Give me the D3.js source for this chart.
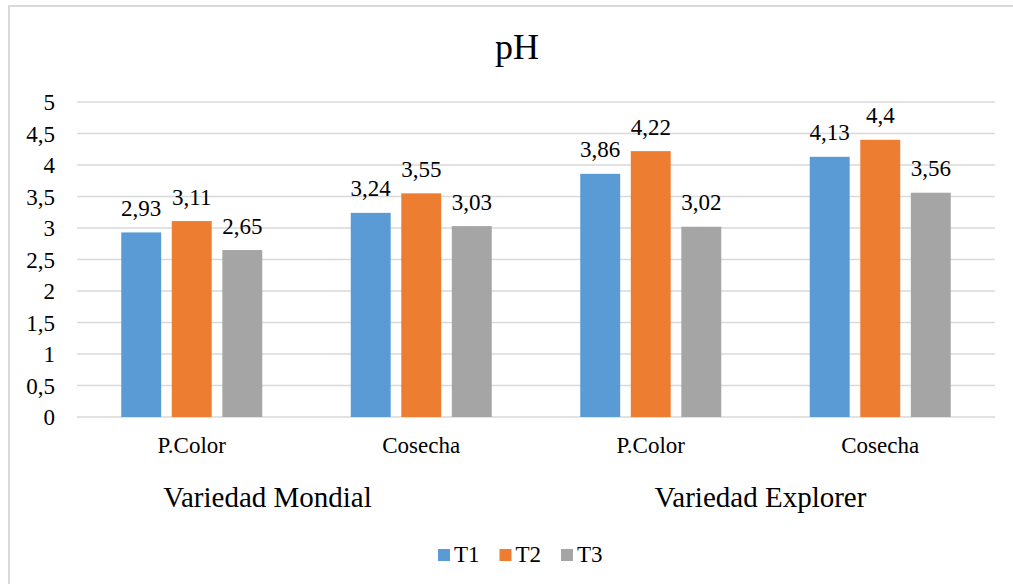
<!DOCTYPE html>
<html>
<head>
<meta charset="utf-8">
<script src="https://cdn.jsdelivr.net/npm/d3@7"></script>
<style>
  body { margin: 0; background: #fff; }
  svg text { font-family: "Liberation Serif", "Times New Roman", serif; }
</style>
</head>
<body>
<div id="chart"></div>
<script>
// data
const varieties = ["Variedad Mondial", "Variedad Explorer"];
const stages = ["P.Color", "Cosecha", "P.Color", "Cosecha"];
const treatments = ["T1", "T2", "T3"];
const t1Values = [2.93, 3.24, 3.86, 4.13];
const t2Values = [3.11, 3.55, 4.22, 4.4];
const t3Values = [2.65, 3.03, 3.02, 3.56];
const yTicks = [0, 0.5, 1, 1.5, 2, 2.5, 3, 3.5, 4, 4.5, 5];

const width = 1013;
const height = 584;
const plotLeft = 77;
const plotRight = 995;
const plotTop = 102;
const plotBottom = 417;
const clusterWidth = 141;
const serif = "Liberation Serif, Times New Roman, serif";

const colors = ["#5B9BD5", "#ED7D31", "#A5A5A5"];
const gridColor = "#d9d9d9";
const fmt = (v) => String(v).replace(".", ",");

const rows = stages.map((s, i) => ({
  key: i,
  stage: s,
  values: [t1Values[i], t2Values[i], t3Values[i]]
}));

const svg = d3.select("#chart")
  .append("svg")
  .attr("width", width)
  .attr("height", height)
  .attr("font-family", serif);

// outer chart border (clipped at right/bottom like the original)
svg.append("rect")
  .attr("x", 9)
  .attr("y", 6)
  .attr("width", 1100)
  .attr("height", 700)
  .attr("fill", "#fff")
  .attr("stroke", gridColor)
  .attr("stroke-width", 2);

svg.append("text")
  .attr("x", 517)
  .attr("y", 59)
  .attr("text-anchor", "middle")
  .attr("font-size", 36)
  .attr("fill", "#000")
  .text("pH");

const x0 = d3.scaleBand()
  .domain(rows.map((d) => d.key))
  .range([plotLeft, plotRight]);

const x1 = d3.scaleBand()
  .domain(treatments)
  .range([0, clusterWidth])
  .paddingInner(0.21);

const y = d3.scaleLinear()
  .domain([0, 5])
  .range([plotBottom, plotTop]);

// gridlines
svg.append("g")
  .selectAll("line")
  .data(yTicks)
  .join("line")
  .attr("x1", plotLeft)
  .attr("x2", plotRight)
  .attr("y1", (d) => y(d))
  .attr("y2", (d) => y(d))
  .attr("stroke", gridColor)
  .attr("stroke-width", 1.3);

// y tick labels
const yAxis = svg.append("g")
  .attr("transform", `translate(${plotLeft},0)`)
  .call(d3.axisLeft(y).tickValues(yTicks).tickFormat(fmt).tickSize(0).tickPadding(22));
yAxis.attr("font-family", serif).attr("font-size", 23);
yAxis.select(".domain").remove();
yAxis.selectAll(".tick text")
  .attr("fill", "#000")
  .attr("dy", "0.34em");

// bars
const groups = svg.append("g")
  .selectAll("g")
  .data(rows)
  .join("g")
  .attr("transform", (d) => `translate(${x0(d.key) + (x0.bandwidth() - clusterWidth) / 2},0)`);

groups.selectAll("rect")
  .data((d) => d.values.map((v, i) => ({ t: treatments[i], v, i })))
  .join("rect")
  .attr("x", (d) => x1(d.t))
  .attr("y", (d) => y(d.v))
  .attr("width", x1.bandwidth())
  .attr("height", (d) => y(0) - y(d.v))
  .attr("fill", (d) => colors[d.i]);

groups.selectAll("text")
  .data((d) => d.values.map((v, i) => ({ t: treatments[i], v, i })))
  .join("text")
  .attr("x", (d) => x1(d.t) + x1.bandwidth() / 2)
  .attr("y", (d) => y(d.v) - 16.5)
  .attr("text-anchor", "middle")
  .attr("font-size", 23)
  .attr("fill", "#000")
  .text((d) => fmt(d.v));

// category labels
svg.append("g")
  .selectAll("text")
  .data(rows)
  .join("text")
  .attr("x", (d) => x0(d.key) + x0.bandwidth() / 2)
  .attr("y", 453)
  .attr("text-anchor", "middle")
  .attr("font-size", 23)
  .attr("fill", "#000")
  .text((d) => d.stage);

// variety labels
const varietyShift = [-39, -5];
svg.append("g")
  .selectAll("text")
  .data(varieties)
  .join("text")
  .attr("x", (d, i) => x0(i * 2) + x0.bandwidth() + varietyShift[i])
  .attr("y", 507)
  .attr("text-anchor", "middle")
  .attr("font-size", 29)
  .attr("fill", "#000")
  .text((d) => d);

// legend
const legend = svg.append("g")
  .selectAll("g")
  .data(treatments)
  .join("g")
  .attr("transform", (d, i) => `translate(${438 + i * 61.5},549)`);

legend.append("rect")
  .attr("width", 12)
  .attr("height", 12)
  .attr("fill", (d, i) => colors[i]);

legend.append("text")
  .attr("x", 16)
  .attr("y", 13)
  .attr("font-size", 23)
  .attr("fill", "#000")
  .text((d) => d);
</script>
</body>
</html>
